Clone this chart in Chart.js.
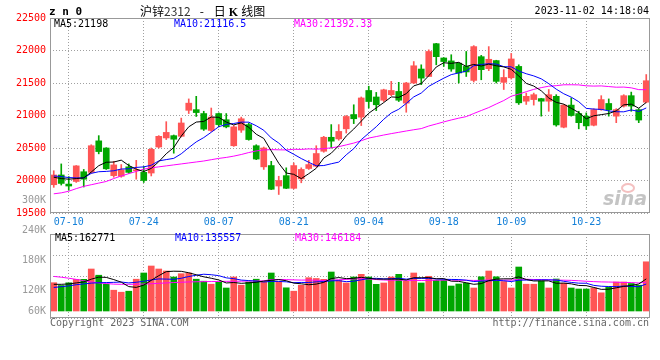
<!DOCTYPE html>
<html lang="zh">
<head>
<meta charset="UTF-8">
<title>沪锌2312 日K线图</title>
<script src="https://cdn.jsdelivr.net/npm/chart.js"></script>
<style>
  body { margin: 0; background: #fff; }
  #wrap { position: relative; width: 660px; height: 360px; overflow: hidden;
          font-family: "DejaVu Sans Mono", monospace; font-size: 10px; }
  #wrap canvas { position: absolute; left: 0; }
  .t { position: absolute; white-space: pre; line-height: 12px; }
</style>
</head>
<body>
<div id="wrap">
  <canvas id="kChart" width="660" height="228" style="top:0"></canvas>
  <canvas id="volChart" width="660" height="170" style="top:190px"></canvas>

  <div class="t" style="left:49px;top:6px;font-size:11px;font-weight:bold">z n 0</div>
  <div class="t" style="left:140px;top:4px;font-family:'Noto Sans CJK SC';font-size:12px;line-height:14px">沪锌<span style="color:#333">2312</span><span style="margin:0 10px 0 9px">-</span>日<span style="margin:0 3px;font-family:'Liberation Serif';font-weight:bold">K</span>线图</div>
  <div class="t" style="right:11px;top:5px">2023-11-02 14:18:04</div>

  <div class="t" style="left:54px;top:18px;color:#000">MA5:21198</div>
  <div class="t" style="left:174px;top:18px;color:#0000ff">MA10:21116.5</div>
  <div class="t" style="left:294px;top:18px;color:#ff00ff">MA30:21392.33</div>

  <div style="position:absolute;left:621px;top:183px;width:10px;height:6px;border:2px solid rgba(235,140,140,0.55);border-radius:50%"></div>
  <div class="t" style="left:603px;top:187px;font-family:'DejaVu Sans';font-size:19px;line-height:22px;font-style:italic;font-weight:bold;color:#c4c4c4">sina</div>

  <div class="t" style="left:55px;top:232px;color:#000">MA5:162771</div>
  <div class="t" style="left:175px;top:232px;color:#0000ff">MA10:135557</div>
  <div class="t" style="left:295px;top:232px;color:#ff00ff">MA30:146184</div>

  <div class="t" style="left:50px;top:317px;color:#666">Copyright 2023 SINA.COM</div>
  <div class="t" style="right:11px;top:317px;color:#666">http://finance.sina.com.cn</div>
</div>
<script>
  // trading days shown, 07-06 .. 11-02
  const dates = [
    "07-06","07-07","07-10","07-11","07-12","07-13","07-14","07-17","07-18","07-19",
    "07-20","07-21","07-24","07-25","07-26","07-27","07-28","07-31","08-01","08-02",
    "08-03","08-04","08-07","08-08","08-09","08-10","08-11","08-14","08-15","08-16",
    "08-17","08-18","08-21","08-22","08-23","08-24","08-25","08-28","08-29","08-30",
    "08-31","09-01","09-04","09-05","09-06","09-07","09-08","09-11","09-12","09-13",
    "09-14","09-15","09-18","09-19","09-20","09-21","09-22","09-25","09-26","09-27",
    "09-28","10-09","10-10","10-11","10-12","10-13","10-16","10-17","10-18","10-19",
    "10-20","10-23","10-24","10-25","10-26","10-27","10-30","10-31","11-01","11-02"
  ];
  const tickDates = ["07-10","07-24","08-07","08-21","09-04","09-18","10-09","10-23"];

  const opens = [
    19935,20085,19945,19985,20135,20125,20610,20500,20075,20065,
    20210,20150,20125,20115,20515,20655,20690,20680,21080,21090,
    21030,20770,21030,20935,20535,20775,20860,20535,20210,20230,
    19915,20075,19880,20025,20185,20220,20450,20665,20640,20795,
    21015,20975,21385,21285,21235,21320,21370,21190,21500,21715,
    21600,22105,21885,21840,21805,21755,21540,21905,21720,21845,
    21510,21580,21755,21220,21245,21260,21220,21295,20820,21160,
    21030,20990,20850,21090,21185,20990,21145,21305,21090,21205
  ];
  const highs = [
    20150,20255,20060,20230,20170,20550,20690,20505,20295,20245,
    20255,20310,20215,20500,20690,20905,20700,20960,21255,21295,
    21065,21115,21040,21030,20845,20975,20885,20550,20515,20295,
    20065,20195,20270,20195,20310,20535,20680,20860,20860,21000,
    21165,21285,21450,21355,21405,21525,21510,21510,21830,21780,
    22010,22110,21890,21935,21810,21985,22075,21925,22060,21850,
    21705,21955,21780,21345,21345,21265,21400,21320,21170,21270,
    21065,21040,21105,21305,21255,21105,21320,21360,21105,21630
  ];
  const lows = [
    19895,19930,19850,19970,19900,20110,20410,20170,20050,20050,
    20110,20020,19970,20070,20500,20630,20420,20670,21030,20985,
    20770,20755,20825,20810,20525,20740,20620,20320,20170,19860,
    19785,19875,19870,19965,20170,20210,20435,20500,20620,20730,
    20875,20845,21115,21075,21215,21305,21215,21050,21490,21475,
    21600,21780,21755,21680,21500,21600,21515,21550,21690,21500,
    21400,21560,21170,21170,21160,20990,21065,20835,20810,20990,
    20795,20785,20840,21080,20990,20890,21130,21065,20890,21195
  ];
  const closes = [
    20085,19955,19915,20225,20020,20535,20445,20180,20240,20165,
    20125,20160,20000,20480,20680,20740,20635,20885,21190,21045,
    20790,20975,20860,20825,20825,20950,20630,20330,20500,19865,
    20000,19880,20230,20170,20245,20415,20665,20605,20755,20985,
    20950,21270,21215,21165,21395,21385,21235,21500,21765,21575,
    21985,21905,21830,21715,21655,21670,22060,21705,21865,21525,
    21585,21870,21195,21295,21320,21220,21320,20855,21160,21000,
    20890,20840,21090,21245,21090,21090,21305,21145,20930,21535
  ];
  const volumes = [
    143200,129000,142700,160400,160400,212500,181100,135600,105200, 95100,
    100200,160900,192300,227700,212500,202400,172000,188700,192300,160900,
    150800,135600,145700,116400,172000,130500,146700,160900,146700,192300,
    148300,117400,100200,130500,168500,164500,160400,197300,155300,141700,
    172000,185700,172000,135100,141700,172000,185700,150300,192300,141700,
    175600,155300,155300,126500,136600,140700,116400,173100,202400,173100,
    149300,116400,222600,135600,135600,151800,116400,161900,140700,116400,
    111300,111300,116400, 92100,120400,146700,146700,139200,130500,249000
  ];

  // moving-average values at the left edge (window not yet full)
  const ma5Head = [20050, 20030, 20020, 20030];
  const ma10Head = [20070, 20060, 20045, 20040, 20040, 20110, 20135, 20140, 20150];
  const ma30Head = [
    19795,19810,19835,19875,19910,19935,19960,19985,20030,20070,
    20105,20140,20175,20195,20210,20225,20240,20255,20270,20285,
    20300,20320,20340,20355,20375,20400,20430,20455,20470
  ];
  const volMa5Head = [135000, 135000, 137000, 142000];
  const volMa10Head = [119000, 123000, 127000, 133000, 137000, 141000, 143000, 144000, 145000];
  const volMa30Head = [
    175000,171000,166000,160000,153000,147000,142000,139000,136000,135000,
    135000,135500,136500,138000,140000,142000,144000,145500,147000,148000,
    148500,149000,149500,150000,150500,151000,151500,152000,152500
  ];

  const priceTicks = [19500, 20000, 20500, 21000, 21500, 22000, 22500];
  const volTickLabels = ["300K", "240K", "180K", "120K", "60K"];
  const volTickValues = [300000, 240000, 180000, 120000, 60000];

  const UP = "#ff5555", DOWN = "#00a600";
  const GRID = "#a0a0a0";
  Chart.defaults.font.family = "DejaVu Sans Mono";
  Chart.defaults.font.size = 10;

  function movingAvg(vals, n, head) {
    return vals.map((v, i) => {
      if (i < n - 1) return head[i];
      let s = 0;
      for (let j = i - n + 1; j <= i; j++) s += vals[j];
      return s / n;
    });
  }
  const pts = arr => arr.map((v, i) => ({ x: i, y: v }));
  const upDown = ctx => closes[ctx.dataIndex] >= opens[ctx.dataIndex] ? UP : DOWN;
  const maLine = (label, data, color) => ({
    type: "line", label, data: pts(data), borderColor: color, borderWidth: 1,
    pointRadius: 0, tension: 0, order: 0
  });

  const boxPlugin = {
    id: "box",
    afterDatasetsDraw(chart) {
      const { ctx, chartArea: a } = chart;
      ctx.save();
      ctx.strokeStyle = "#999";
      ctx.lineWidth = 1;
      ctx.strokeRect(Math.round(a.left) + 0.5, Math.round(a.top) + 0.5,
                     Math.round(a.right - a.left) - 1, Math.round(a.bottom - a.top) - 1);
      ctx.restore();
    }
  };

  const xScale = (showLabels) => ({
    type: "linear", min: -0.5, max: 79.5, offset: false,
    afterBuildTicks: s => { s.ticks = tickDates.map(d => ({ value: dates.indexOf(d) })); },
    ticks: { display: showLabels, autoSkip: false, maxRotation: 0, padding: 3, color: "#1580d8",
             callback: v => dates[v] },
    grid: { color: GRID, drawTicks: false, offset: false },
    border: { display: false, dash: [1, 2] },
    afterFit: s => { s.height = showLabels ? 15 : 0; }
  });

  const idx = dates.map((d, i) => i);

  new Chart(document.getElementById("kChart"), {
    type: "bar",
    data: {
      datasets: [
        maLine("MA5", movingAvg(closes, 5, ma5Head), "#000000"),
        maLine("MA10", movingAvg(closes, 10, ma10Head), "#0000ff"),
        maLine("MA30", movingAvg(closes, 30, ma30Head), "#ff00ff"),
        { label: "body", data: idx.map(i => ({ x: i, y: [opens[i], closes[i]] })),
          backgroundColor: upDown, barThickness: 6, minBarLength: 1, grouped: false, order: 1 },
        { label: "wick", data: idx.map(i => ({ x: i, y: [lows[i], highs[i]] })),
          backgroundColor: upDown, barThickness: 1, grouped: false, order: 2 }
      ]
    },
    options: {
      responsive: false,
      animation: false,
      layout: { padding: { top: 18, right: 10, left: 0, bottom: 0 } },
      plugins: { legend: { display: false }, tooltip: { enabled: false } },
      scales: {
        x: xScale(true),
        y: {
          min: 19500, max: 22500,
          afterBuildTicks: s => { s.ticks = priceTicks.map(v => ({ value: v })); },
          ticks: { color: "#ff0000", padding: 4, callback: v => String(v) },
          grid: { color: GRID, drawTicks: false },
          border: { display: false, dash: [1, 2] },
          afterFit: s => { s.width = 50; }
        }
      }
    },
    plugins: [boxPlugin]
  });

  const volLabels = {
    id: "volLabels",
    afterDraw(chart) {
      const { ctx, chartArea: a } = chart;
      const s = chart.scales.lbl;
      ctx.save();
      ctx.fillStyle = "#999";
      ctx.font = "10px 'DejaVu Sans Mono'";
      ctx.textAlign = "right";
      ctx.textBaseline = "middle";
      volTickValues.forEach((v, k) => {
        const y = Math.min(s.getPixelForValue(v), a.bottom - 7);
        ctx.fillText(volTickLabels[k], a.left - 4, y);
      });
      ctx.restore();
    }
  };

  new Chart(document.getElementById("volChart"), {
    type: "bar",
    data: {
      datasets: [
        maLine("MA5", movingAvg(volumes, 5, volMa5Head), "#000000"),
        maLine("MA10", movingAvg(volumes, 10, volMa10Head), "#0000ff"),
        maLine("MA30", movingAvg(volumes, 30, volMa30Head), "#ff00ff"),
        { label: "vol", data: pts(volumes), backgroundColor: upDown,
          barThickness: 6, grouped: false, order: 1 }
      ]
    },
    options: {
      responsive: false,
      animation: false,
      layout: { padding: { top: 44, right: 10, left: 0, bottom: 42 } },
      plugins: { legend: { display: false }, tooltip: { enabled: false } },
      scales: {
        x: xScale(false),
        y: {
          min: -35400, max: 389600,
          ticks: { count: 5, display: false },
          grid: { color: GRID, drawTicks: false },
          border: { display: false, dash: [1, 2] },
          afterFit: s => { s.width = 50; }
        },
        lbl: { type: "linear", position: "left", display: false, min: 64000, max: 232000 }
      }
    },
    plugins: [boxPlugin, volLabels]
  });
</script>
</body>
</html>
